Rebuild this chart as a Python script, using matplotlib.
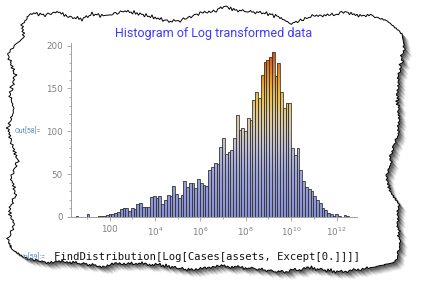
import numpy as np
import matplotlib
matplotlib.use('Agg')
import matplotlib.pyplot as plt
from matplotlib.colors import LinearSegmentedColormap
from matplotlib.patches import Polygon, PathPatch
from matplotlib.path import Path

# histogram of log10(assets) -- bin counts
bin_start = 0.378      # log10 of the first bin edge
bin_width = 0.1218     # bin width in decades
counts = [0, 1, 0, 0, 0, 4, 0, 0, 0, 1,
          1, 1, 2, 3, 4, 5, 6, 9, 11, 10,
          7, 11, 9, 15, 16, 12, 12, 12, 23, 25,
          22, 25, 15, 20, 26, 24, 36, 27, 22, 26,
          42, 35, 40, 40, 34, 44, 40, 37, 36, 55,
          58, 63, 62, 82, 92, 74, 76, 78, 92, 119,
          101, 104, 100, 115, 113, 136, 146, 139, 166, 181,
          183, 187, 192, 164, 180, 146, 127, 133, 133, 80,
          72, 80, 55, 42, 35, 33, 30, 24, 20, 16,
          11, 8, 5, 3, 1, 3, 1, 0, 2, 1]

xtick_pows = [2, 4, 6, 8, 10, 12]
xtick_labels = ['100', '$10^{4}$', '$10^{6}$', '$10^{8}$', '$10^{10}$', '$10^{12}$']
yticks = [0, 50, 100, 150, 200]
title = 'Histogram of Log transformed data'
out_label = 'Out[58]='
in_label = 'In[59]:='
code_line = 'FindDistribution[Log[Cases[assets, Except[0.]]]]'

W, H = 425, 301
fig = plt.figure(figsize=(W / 100, H / 100), dpi=100)
fig.patch.set_facecolor('white')

# ---- torn paper frame (pixel coords) ----
bg = fig.add_axes([0, 0, 1, 1])
bg.set_xlim(0, W)
bg.set_ylim(H, 0)
bg.axis('off')

top = [(27, 17), (32, 13), (45, 15), (57, 12), (70, 17), (82, 19), (92, 14), (105, 16),
       (125, 11), (140, 14), (152, 17), (172, 22), (185, 19), (200, 13), (215, 11), (225, 6),
       (235, 10), (252, 12), (265, 13), (280, 17), (290, 24), (302, 20), (315, 15), (332, 15),
       (345, 12), (360, 16), (372, 16), (385, 20), (396, 28), (402, 34)]
right = [(404, 45), (402, 60), (399, 75), (397, 95), (399, 115), (398, 135), (392, 150),
         (390, 165), (386, 178), (391, 192), (399, 205), (398, 225), (400, 245), (396, 262)]
bottom = [(370, 268), (340, 272), (310, 268), (280, 272), (250, 268), (220, 266), (190, 270),
          (160, 265), (130, 263), (100, 266), (70, 262), (45, 262), (25, 258), (12, 250)]
left = [(8, 240), (14, 225), (9, 210), (16, 195), (11, 178), (18, 160), (12, 145), (8, 128),
        (14, 110), (10, 95), (15, 75), (8, 55), (13, 48), (24, 38), (22, 25)]


def jag(pts, axis, seed):
    pts = np.array(pts, dtype=float)
    out = []
    for i in range(len(pts) - 1):
        a, b = pts[i], pts[i + 1]
        n = max(int(np.hypot(*(b - a)) / 1.5), 2)
        for t in np.linspace(0, 1, n, endpoint=False):
            p = a + (b - a) * t
            s = p[0] + p[1] + seed
            d = 1.1 * np.sin(1.7 * s) + 0.8 * np.sin(4.3 * s + 1.3) + 0.5 * np.sin(9.1 * s + 0.4)
            q = p.copy()
            q[axis] += d
            out.append(q)
    return out


outline = jag(top + [right[0]], 1, 0.0) + jag(right + [bottom[0]], 0, 3.0) \
    + jag(bottom + [left[0]], 1, 7.0) + jag(left + [top[0]], 0, 11.0)
outline = np.array(outline)

for off, a in [(7, 0.08), (6, 0.12), (5, 0.15), (4, 0.2), (3, 0.3), (2, 0.35)]:
    bg.add_patch(Polygon(outline + [off, off], closed=True, facecolor='#303030',
                         edgecolor='none', alpha=a))
bg.add_patch(Polygon(outline, closed=True, facecolor='white', edgecolor='black', linewidth=0.7))

bg.text(214, 33, title, color='#3b3bff', fontsize=9, family='Roboto', ha='center', va='center')
bg.text(15, 131, out_label, color='#5b86b8', fontsize=5, family='Roboto', ha='left', va='center')
bg.text(22, 257, in_label, color='#5b86b8', fontsize=5, family='Roboto', ha='left', va='center')
bg.text(54, 257, code_line, color='#111111', fontsize=7.6, family='DejaVu Sans Mono',
        ha='left', va='center')

# ---- histogram ----
ax = fig.add_axes([71 / W, 1 - 217 / H, (357 - 71) / W, (217 - 43) / H])
ax.patch.set_alpha(0)
ax.set_xscale('log')
xmin, xmax = 10 ** 0.3, 10 ** 12.9
ytop = 203
ax.set_xlim(xmin, xmax)
ax.set_ylim(0, ytop)
ax.set_autoscale_on(False)

counts = np.array(counts)
edges = 10 ** (bin_start + bin_width * np.arange(len(counts) + 1))
lefts, rights = edges[:-1], edges[1:]

cmap = LinearSegmentedColormap.from_list('hist', [
    (0.0, '#8791d7'), (0.25, '#9ca4dc'), (0.40, '#bdbcd6'), (0.50, '#d2c8b6'),
    (0.60, '#e2c98e'), (0.70, '#ecbf4c'), (0.80, '#eb9c2c'), (0.90, '#e06c18'),
    (1.0, '#d63c0c')])

verts, codes = [], []
for l, r, h in zip(lefts, rights, counts):
    if h <= 0:
        continue
    verts += [(l, 0), (r, 0), (r, h), (l, h), (l, 0)]
    codes += [Path.MOVETO, Path.LINETO, Path.LINETO, Path.LINETO, Path.CLOSEPOLY]
clip = PathPatch(Path(verts, codes), transform=ax.transData, facecolor='none', edgecolor='none')
ax.add_patch(clip)

grad = np.linspace(0, ytop, 256).reshape(-1, 1)
im = ax.imshow(grad, extent=[0, 1, 0, 1], transform=ax.transAxes, origin='lower',
               aspect='auto', cmap=cmap, vmin=0, vmax=200, interpolation='bilinear')
im.set_clip_path(clip)

ax.bar(lefts, counts, width=rights - lefts, align='edge', fill=False,
       edgecolor='#3a3a3a', linewidth=0.6)

for s in ['top', 'right']:
    ax.spines[s].set_visible(False)
for s in ['left', 'bottom']:
    ax.spines[s].set_color('#a0a0a0')
    ax.spines[s].set_linewidth(0.7)

ax.set_xticks([10.0 ** p for p in xtick_pows])
ax.set_xticklabels(xtick_labels)
ax.set_xticks([10.0 ** p for p in [1, 3, 5, 7, 9, 11]], minor=True)
ax.xaxis.set_minor_formatter(plt.NullFormatter())
ax.set_yticks(yticks)
ax.set_yticks(np.arange(10, 200, 10), minor=True)
ax.tick_params(which='both', colors='#a0a0a0', labelcolor='#808080', labelsize=6.3,
               width=0.6, direction='out')
ax.tick_params(which='major', length=3, pad=3)
ax.tick_params(which='minor', length=1.5)

fig.savefig('out.png', dpi=100, facecolor='white')
